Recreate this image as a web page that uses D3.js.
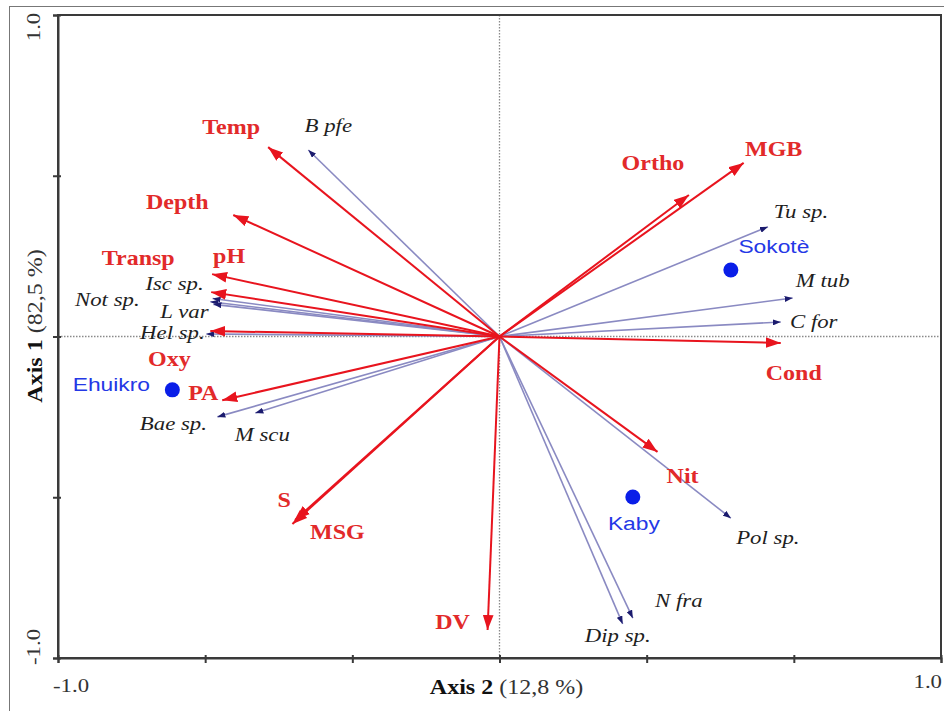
<!DOCTYPE html>
<html><head><meta charset="utf-8">
<script src="https://cdn.jsdelivr.net/npm/d3@7/dist/d3.min.js"></script>
<style>body{margin:0;background:#fff}svg{display:block}</style>
</head><body>
<svg id="c" width="944" height="711"></svg>
<script>
// ---- data (axis 2 = horizontal, axis 1 = vertical) ----
const envNames  = ["Temp","Depth","pH","Transp","Oxy","PA","S","MSG","DV","Nit","Cond","Ortho","MGB"];
const envAxis2  = [-0.524,-0.603,-0.651,-0.653,-0.655,-0.628,-0.463,-0.469,-0.027,0.358,0.637,0.429,0.553];
const envAxis1  = [0.589,0.378,0.194,0.138,0.017,-0.198,-0.571,-0.583,-0.913,-0.359,-0.020,0.440,0.540];

const sppNames  = ["B pfe","Isc sp.","Not sp.","L var","Hel sp.","Bae sp.","M scu","Tu sp.","M tub","C for","Pol sp.","N fra","Dip sp."];
const sppAxis2  = [-0.433,-0.650,-0.655,-0.648,-0.664,-0.639,-0.553,0.608,0.664,0.637,0.524,0.302,0.279];
const sppAxis1  = [0.580,0.118,0.108,0.100,0.008,-0.250,-0.238,0.341,0.120,0.045,-0.565,-0.876,-0.894];

const siteNames = ["Ehuikro","Sokotè","Kaby"];
const siteAxis2 = [-0.741,0.524,0.302];
const siteAxis1 = [-0.166,0.207,-0.499];

const xTickValues = [-1,-2/3,-1/3,0,1/3,2/3,1];
const yTickValues = [-1,-0.5,0,0.5,1];
const axis2Title = ["Axis 2"," (12,8 %)"];
const axis1Title = ["Axis 1"," (82,5 %)"];

// ---- layout (label offsets in px) ----
const envOff = {Temp:[-37,-20],Depth:[-56,-13],pH:[17,-18],Transp:[-73,-34],Oxy:[-41,28],PA:[-19,-7],
  S:[-11,-20],MSG:[45,8],DV:[-35,-8],Nit:[25,24],Cond:[13,30],Ortho:[-36,-32],MGB:[30,-14]};
const sppOff = {"B pfe":[20,-24],"Isc sp.":[-38,-15],"Not sp.":[-103,-2],"L var":[-29,7],"Hel sp.":[-34,-1],
  "Bae sp.":[-44,7],"M scu":[7,22],"Tu sp.":[33,-15],"M tub":[30,-17],"C for":[33,0],"Pol sp.":[37,20],
  "N fra":[46,-17],"Dip sp.":[-5,12]};
const siteOff = {"Ehuikro":[-61,-6],"Sokotè":[43,-24],"Kaby":[1,26]};

const svg = d3.select("#c");
const L=58, R=941, T=15, B=658;
const x = d3.scaleLinear().domain([-1,1]).range([L,R]);
const y = d3.scaleLinear().domain([-1,1]).range([B,T]);
const SX = 1.2;
const RED="#e8141e", RED_T="#e22a2a", SPL="#8a8ac2", SPH="#1b1b6e", SITE="#2438e6";
const fmt = v => d3.format(".1f")(v).replace("\u2212","-");

// outer border
svg.append("rect").attr("x",9.5).attr("y",6.5).attr("width",1000).attr("height",1000)
  .attr("fill","none").attr("stroke","#777").attr("stroke-width",1);

// dotted zero lines
svg.append("line").attr("x1",x(-1)).attr("x2",x(1)).attr("y1",y(0)).attr("y2",y(0))
  .attr("stroke","#8a8a8a").attr("stroke-width",1.3).attr("stroke-dasharray","1.5,1.5");
svg.append("line").attr("x1",x(0)).attr("x2",x(0)).attr("y1",y(1)).attr("y2",y(-1))
  .attr("stroke","#8a8a8a").attr("stroke-width",1.3).attr("stroke-dasharray","1.5,1.5");

// frame
svg.append("rect").attr("x",L).attr("y",T).attr("width",R-L).attr("height",B-T)
  .attr("fill","none").attr("stroke","#3a3a3a").attr("stroke-width",2);

// axes (ticks only, crossing the axis line)
const ax = svg.append("g").attr("transform",`translate(0,${B})`)
  .call(d3.axisBottom(x).tickValues(xTickValues).tickSizeOuter(0).tickSize(5).tickFormat(""));
const ay = svg.append("g").attr("transform",`translate(${L},0)`)
  .call(d3.axisLeft(y).tickValues(yTickValues).tickSizeOuter(0).tickSize(5).tickFormat(""));
[ax,ay].forEach(g=>{g.select(".domain").attr("stroke","#3a3a3a").attr("stroke-width",2);
  g.selectAll(".tick line").attr("stroke","#3a3a3a").attr("stroke-width",2);});
ax.selectAll(".tick line").attr("y1",-3);
ay.selectAll(".tick line").attr("x1",3);

// markers
const defs = svg.append("defs");
defs.append("marker").attr("id","hr").attr("viewBox","0 0 14 10").attr("refX",14).attr("refY",5)
  .attr("markerWidth",15).attr("markerHeight",11).attr("markerUnits","userSpaceOnUse").attr("orient","auto")
  .append("path").attr("d","M0,0L14,5L0,10Z").attr("fill",RED);
defs.append("marker").attr("id","hb").attr("viewBox","0 0 8 6").attr("refX",8).attr("refY",3)
  .attr("markerWidth",8).attr("markerHeight",6).attr("markerUnits","userSpaceOnUse").attr("orient","auto")
  .append("path").attr("d","M0,0L8,3L0,6Z").attr("fill",SPH);

const env = envNames.map((n,i)=>({n,a:envAxis2[i],b:envAxis1[i]}));
const spp = sppNames.map((n,i)=>({n,a:sppAxis2[i],b:sppAxis1[i]}));
const sites = siteNames.map((n,i)=>({n,a:siteAxis2[i],b:siteAxis1[i]}));

// species arrows
svg.append("g").selectAll("line").data(spp).join("line")
  .attr("x1",x(0)).attr("y1",y(0)).attr("x2",d=>x(d.a)).attr("y2",d=>y(d.b))
  .attr("stroke",SPL).attr("stroke-width",1.6).attr("marker-end","url(#hb)");
// env arrows
svg.append("g").selectAll("line").data(env).join("line")
  .attr("x1",x(0)).attr("y1",y(0)).attr("x2",d=>x(d.a)).attr("y2",d=>y(d.b))
  .attr("stroke",RED).attr("stroke-width",2).attr("marker-end","url(#hr)");

// site points
svg.append("g").selectAll("circle").data(sites).join("circle")
  .attr("cx",d=>x(d.a)).attr("cy",d=>y(d.b)).attr("r",7.5).attr("fill","#0a1ee8");

function label(g,data,off,style){
  g.selectAll("text").data(data).join("text")
    .attr("transform",d=>`translate(${x(d.a)+off[d.n][0]},${y(d.b)+off[d.n][1]}) scale(${SX},1)`)
    .attr("text-anchor","middle").attr("dominant-baseline","central")
    .attr("font-family",style.f).attr("font-size",style.s).attr("font-weight",style.w)
    .attr("font-style",style.i).attr("fill",style.c).text(d=>d.n);
}
label(svg.append("g"),env,envOff,{f:"Liberation Serif",s:20,w:"bold",i:"normal",c:RED_T});
label(svg.append("g"),spp,sppOff,{f:"Liberation Serif",s:19,w:"normal",i:"italic",c:"#1e1e1e"});
label(svg.append("g"),sites,siteOff,{f:"Liberation Sans",s:19,w:"normal",i:"normal",c:SITE});

// tick labels
const tl = {f:"Liberation Serif",s:19,c:"#333"};
svg.append("text").attr("transform",`translate(${x(-1)+13},692) scale(${SX},1)`).attr("text-anchor","middle")
  .attr("font-family",tl.f).attr("font-size",tl.s).attr("fill",tl.c).text(fmt(xTickValues[0]));
svg.append("text").attr("transform",`translate(942,688) scale(${SX},1)`).attr("text-anchor","end")
  .attr("font-family",tl.f).attr("font-size",tl.s).attr("fill",tl.c).text(fmt(xTickValues[xTickValues.length-1]));
svg.append("text").attr("transform",`translate(40,27) rotate(-90) scale(${SX},1)`).attr("text-anchor","middle")
  .attr("font-family",tl.f).attr("font-size",tl.s).attr("fill",tl.c).text(fmt(yTickValues[yTickValues.length-1]));
svg.append("text").attr("transform",`translate(40,647) rotate(-90) scale(${SX},1)`).attr("text-anchor","middle")
  .attr("font-family",tl.f).attr("font-size",tl.s).attr("fill",tl.c).text(fmt(yTickValues[0]));

// axis titles
const t2 = svg.append("text").attr("transform",`translate(${x(0)+7},694) scale(${SX},1)`).attr("text-anchor","middle")
  .attr("font-family","Liberation Serif").attr("font-size",20).attr("fill","#111");
t2.append("tspan").attr("font-weight","bold").text(axis2Title[0]);
t2.append("tspan").attr("fill","#333").text(axis2Title[1]);
const t1 = svg.append("text").attr("transform",`translate(42,326) rotate(-90) scale(${SX},1)`).attr("text-anchor","middle")
  .attr("font-family","Liberation Serif").attr("font-size",20).attr("fill","#111");
t1.append("tspan").attr("font-weight","bold").text(axis1Title[0]);
t1.append("tspan").attr("fill","#333").text(axis1Title[1]);
</script>
</body></html>
